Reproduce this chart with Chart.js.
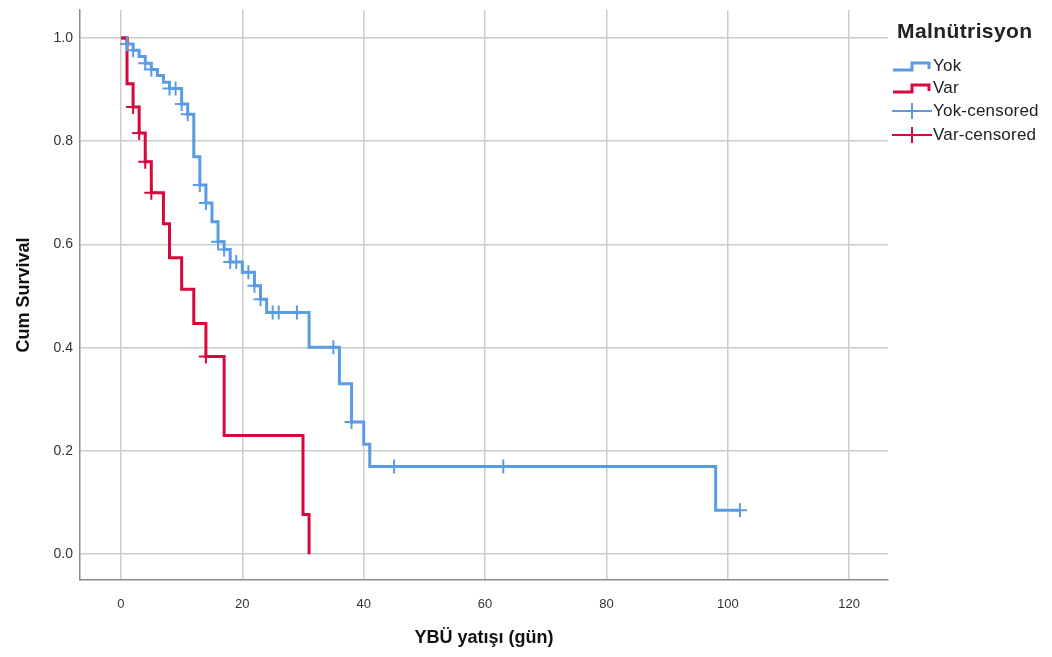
<!DOCTYPE html>
<html>
<head>
<meta charset="utf-8">
<script src="https://cdn.jsdelivr.net/npm/chart.js@4"></script>
<style>
  html, body { margin: 0; padding: 0; background: #fff; }
  #wrap { position: relative; width: 1052px; height: 657px; }
  #legend { position: absolute; left: 0; top: 0; font-family: "Liberation Sans", Arial, sans-serif; color: #222; }
  #legend .title { position: absolute; left: 897px; top: 19px; line-height: 24px; font-weight: bold; font-size: 21px; letter-spacing: 0.4px; white-space: nowrap; }
  #legend .row { position: absolute; left: 891px; display: flex; align-items: center; height: 24px; font-size: 17px; white-space: nowrap; letter-spacing: 0.2px; }
  #legend svg { width: 42px; height: 20px; flex: none; }
</style>
</head>
<body>
<div id="wrap">
  <canvas id="km" width="1052" height="657"></canvas>
  <div id="legend">
    <div class="title">Malnütrisyon</div>
    <div class="row" style="top:54px"><svg viewBox="0 0 42 20"><polyline points="2,14 21,14 21,7 38,7 38,13" fill="none" stroke="#5A9BE6" stroke-width="3"/></svg><span>Yok</span></div>
    <div class="row" style="top:76px"><svg viewBox="0 0 42 20"><polyline points="2,14 21,14 21,7 38,7 38,13" fill="none" stroke="#D6083C" stroke-width="3"/></svg><span>Var</span></div>
    <div class="row" style="top:99px"><svg viewBox="0 0 42 20"><line x1="1" y1="10" x2="41" y2="10" stroke="#5A9BE6" stroke-width="2"/><line x1="21" y1="2" x2="21" y2="18" stroke="#5A9BE6" stroke-width="2"/></svg><span>Yok-censored</span></div>
    <div class="row" style="top:123px"><svg viewBox="0 0 42 20"><line x1="1" y1="10" x2="41" y2="10" stroke="#D6083C" stroke-width="2"/><line x1="21" y1="2" x2="21" y2="18" stroke="#D6083C" stroke-width="2"/></svg><span>Var-censored</span></div>
  </div>
</div>
<script>
// eksen etiketleri
const xTicks = [0, 20, 40, 60, 80, 100, 120];
const yTicks = [0, 0.2, 0.4, 0.6, 0.8, 1.0];

// Yok grubu (olay zamanları ve sağkalım)
const yokTime = [0, 1, 2, 3, 4, 5, 6, 7, 8, 10, 11, 12, 13, 14, 15, 16, 17, 18, 20, 22, 23, 24, 31, 36, 38, 40, 41, 98, 102];
const yokSurv = [1, 0.988, 0.976, 0.964, 0.951, 0.939, 0.927, 0.914, 0.902, 0.872, 0.852, 0.77, 0.715, 0.68, 0.644, 0.605, 0.59, 0.566, 0.546, 0.52, 0.494, 0.468, 0.401, 0.33, 0.256, 0.213, 0.17, 0.085, 0.085];
const yokCensTime = [1, 2, 4, 5, 8, 9, 10, 11, 13, 14, 16, 17, 18, 19, 21, 22, 23, 25, 26, 29, 35, 38, 45, 63, 102];
const yokCensSurv = [0.988, 0.976, 0.951, 0.939, 0.902, 0.902, 0.872, 0.852, 0.715, 0.68, 0.605, 0.59, 0.566, 0.566, 0.546, 0.52, 0.494, 0.468, 0.468, 0.468, 0.401, 0.256, 0.17, 0.17, 0.085];

// Var grubu
const varTime = [0, 1, 2, 3, 4, 5, 7, 8, 10, 12, 14, 17, 30, 31];
const varSurv = [1, 0.911, 0.866, 0.816, 0.76, 0.70, 0.64, 0.574, 0.513, 0.447, 0.383, 0.23, 0.077, 0];
const varCensTime = [2, 3, 4, 5, 14];
const varCensSurv = [0.866, 0.816, 0.76, 0.70, 0.383];

const blue = '#5A9BE6';
const red = '#D6083C';

function pts(xs, ys) {
    return xs.map((x, i) => ({ x: x, y: ys[i] }));
}

const fam = '"Liberation Sans", Arial, sans-serif';
const titleFont = { family: fam, size: 18, weight: 'bold' };

new Chart(document.getElementById('km'), {
    type: 'line',
    data: {
        datasets: [
            { label: 'Yok', data: pts(yokTime, yokSurv), stepped: true, borderColor: blue, borderWidth: 3, pointRadius: 0, fill: false, order: 4 },
            { label: 'Var', data: pts(varTime, varSurv), stepped: true, borderColor: red, borderWidth: 3, pointRadius: 0, fill: false, order: 3 },
            { label: 'Yok-censored', data: pts(yokCensTime, yokCensSurv), showLine: false, pointStyle: 'cross', pointRadius: 7, pointBorderWidth: 2, pointBorderColor: blue, order: 2 },
            { label: 'Var-censored', data: pts(varCensTime, varCensSurv), showLine: false, pointStyle: 'cross', pointRadius: 7, pointBorderWidth: 2, pointBorderColor: red, order: 1 }
        ]
    },
    options: {
        responsive: false,
        animation: false,
        layout: { padding: { top: 10, right: 164, left: 0, bottom: 0 } },
        plugins: { legend: { display: false }, tooltip: { enabled: false } },
        scales: {
            x: {
                type: 'linear',
                min: -6.75,
                max: 126.4,
                afterBuildTicks: s => { s.ticks = xTicks.map(v => ({ value: v })); },
                afterFit: s => { s.height = 77; s.paddingLeft = 0; s.paddingRight = 0; },
                grid: { color: '#cccccc', lineWidth: 1.5, drawTicks: false },
                border: { color: '#8c8c8c', width: 1.5 },
                ticks: { font: { family: fam, size: 13 }, color: '#333', padding: 17, maxRotation: 0 },
                title: { display: true, text: 'YBÜ yatışı (gün)', font: titleFont, color: '#111', padding: { top: 0, bottom: 8 } }
            },
            y: {
                type: 'linear',
                min: -0.05,
                max: 1.054,
                afterBuildTicks: s => { s.ticks = yTicks.map(v => ({ value: v })); },
                afterFit: s => { s.width = 80; s.paddingTop = 0; s.paddingBottom = 0; },
                grid: { color: '#cccccc', lineWidth: 1.5, drawTicks: false },
                border: { color: '#8c8c8c', width: 1.5 },
                ticks: { font: { family: fam, size: 14 }, color: '#333', padding: 7, callback: v => v.toFixed(1) },
                title: { display: true, text: 'Cum Survival', font: titleFont, color: '#111', padding: { top: 13, bottom: 0 } }
            }
        }
    }
});
</script>
</body>
</html>
